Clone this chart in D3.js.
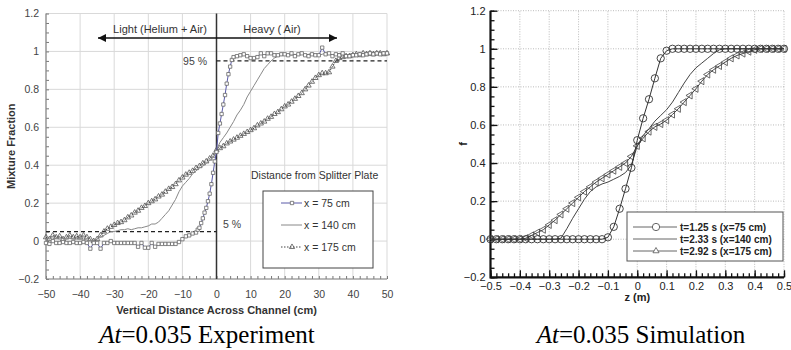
<!DOCTYPE html>
<html>
<head>
<meta charset="utf-8">
<script src="https://cdn.jsdelivr.net/npm/d3@7"></script>
<style>
  body { margin: 0; background: #fff; }
  svg { display: block; }
  text { font-family: "Liberation Sans", Arial, sans-serif; }
  text.caption { font-family: "Liberation Serif", "Times New Roman", serif; }
</style>
</head>
<body>
<svg id="chart" width="791" height="350"></svg>
<script>
// ---------- experiment (left) ----------
const expXTicks = [-50, -40, -30, -20, -10, 0, 10, 20, 30, 40, 50];
const fTicks = [-0.2, 0, 0.2, 0.4, 0.6, 0.8, 1, 1.2];

const expX = [-50,-49,-48,-47,-46,-45,-44,-43,-42,-41,-40,-39,-38,-37,-36,-35,-34,-33,-32,-31,
  -30,-29,-28,-27,-26,-25,-24,-23,-22,-21,-20,-19,-18,-17,-16,-15,-14,-13,-12,-11,
  -10,-9,-8,-7,-6,-5,-4,-3,-2,-1,0,1,2,3,4,5,6,7,8,9,10,11,12,13,14,15,16,17,18,19,
  20,21,22,23,24,25,26,27,28,29,30,31,32,33,34,35,36,37,38,39,40,41,42,43,44,45,46,47,48,49,50];

const exp75X = [-50,-49,-48,-47,-46,-45,-44,-43,-42,-41,-40,-39,-38,-37,-36,-35,-34,-33,-32,-31,
  -30,-29,-28,-27,-26,-25,-24,-23,-22,-21,-20,-19,-18,-17,-16,-15,-14,-13,-12,-11,
  -10,-9,-8,-7,-6,-5.5,-5,-4.5,-4,-3.5,-3,-2.5,-2,-1.5,-1,-0.5,0,0.5,1,1.5,2,2.5,3,3.5,4,4.5,5,
  6,7,8,9,10,11,12,13,14,15,16,17,18,19,20,21,22,23,24,25,26,27,28,29,30,
  31,32,33,34,35,36,37,38,39,40,41,42,43,44,45,46,47,48,49,50];
const exp75F = [-0.01,-0.015,0,-0.01,-0.01,-0.005,-0.01,-0.01,-0.005,-0.01,
  -0.01,-0.005,-0.01,-0.04,-0.01,-0.01,-0.04,-0.01,-0.01,0,
  -0.01,-0.01,-0.01,-0.01,-0.01,-0.01,-0.01,-0.03,-0.01,-0.035,
  -0.035,-0.01,-0.03,-0.015,-0.015,-0.015,-0.015,-0.015,-0.015,-0.005,
  0.01,0.025,0.03,0.04,0.045,
  0.06,0.07,0.095,0.12,0.15,0.175,0.21,0.25,0.30,0.36,0.42,0.47,
  0.57,0.62,0.67,0.72,0.77,0.83,0.88,0.92,0.955,0.97,
  0.975,0.98,0.985,0.975,0.965,0.965,0.97,0.99,0.975,0.99,
  0.99,0.98,0.98,0.985,0.985,0.98,0.99,0.975,0.985,0.99,
  0.98,0.975,0.985,0.98,0.98,1.02,0.985,0.99,0.975,0.985,
  0.98,0.99,0.975,0.975,0.98,0.98,0.985,0.98,0.985,0.99,
  0.985,0.99,0.985,0.99,0.99];

const exp140F = [0.01,0.015,0.01,0.015,0.01,0.015,0.01,0.015,0.01,0.01,
  0.01,0.01,0.005,0.0,0.005,0.01,0.02,0.03,0.04,0.05,
  0.05,0.055,0.06,0.06,0.065,0.06,0.065,0.07,0.07,0.075,
  0.08,0.09,0.09,0.10,0.12,0.14,0.16,0.19,0.22,0.26,
  0.29,0.31,0.33,0.355,0.37,0.385,0.395,0.41,0.425,0.44,
  0.48,
  0.52,0.545,0.57,0.6,0.63,0.665,0.69,0.72,0.76,0.79,
  0.82,0.85,0.88,0.91,0.93,0.95,0.965,0.975,0.98,0.98,
  0.985,0.98,0.985,0.98,0.985,0.98,0.985,0.99,0.985,0.98,
  0.985,0.99,0.985,0.98,0.985,0.99,0.985,0.98,0.985,0.99,
  0.985,0.99,0.985,0.99,0.985,0.99,0.99,0.985,0.99,0.99];

const exp175F = [0.02,0.01,0.03,0.02,0.025,0.01,0.02,0.03,0.02,0.025,
  0.02,0.03,0.02,0.01,0.0,0.01,0.03,0.05,0.065,0.075,
  0.085,0.095,0.10,0.11,0.125,0.135,0.15,0.16,0.175,0.185,
  0.20,0.21,0.22,0.235,0.245,0.26,0.275,0.285,0.30,0.32,
  0.335,0.35,0.36,0.37,0.385,0.395,0.41,0.42,0.435,0.45,
  0.48,
  0.49,0.5,0.515,0.525,0.535,0.545,0.555,0.565,0.575,0.585,
  0.595,0.61,0.62,0.63,0.645,0.655,0.67,0.68,0.695,0.71,
  0.72,0.735,0.75,0.765,0.78,0.80,0.82,0.84,0.86,0.875,
  0.885,0.885,0.89,0.92,0.95,0.965,0.97,0.975,0.975,0.98,
  0.985,0.98,0.99,0.985,0.99,0.985,0.99,0.99,0.985,0.99];

const expLegend = ['x = 75 cm', 'x = 140 cm', 'x = 175 cm'];

// ---------- simulation (right) ----------
const simZTicks = [-0.5, -0.4, -0.3, -0.2, -0.1, 0, 0.1, 0.2, 0.3, 0.4, 0.5];
const simZ = [-0.5,-0.48,-0.46,-0.44,-0.42,-0.4,-0.38,-0.36,-0.34,-0.32,-0.3,-0.28,-0.26,-0.24,-0.22,
  -0.2,-0.18,-0.16,-0.14,-0.12,-0.1,-0.08,-0.06,-0.04,-0.02,0,0.02,0.04,0.06,0.08,0.1,
  0.12,0.14,0.16,0.18,0.2,0.22,0.24,0.26,0.28,0.3,0.32,0.34,0.36,0.38,0.4,0.42,0.44,0.46,0.48,0.5];
const sim125F = [0,0,0,0,0,0,0,0,0,0,0,0,0,0,0,0,0,0,0,0,
  0.01,0.065,0.16,0.265,0.375,0.52,0.635,0.735,0.845,0.95,0.99,
  1,1,1,1,1,1,1,1,1,1,1,1,1,1,1,1,1,1,1,1];
const sim233F = [0,0,0,0,0,0,0,0,0,0,0,0,
  0.005,0.055,0.11,0.16,0.21,0.25,0.275,0.29,0.30,0.315,0.33,0.35,0.39,0.49,
  0.545,0.58,0.62,0.65,0.68,0.72,0.77,0.82,0.865,0.9,0.925,0.95,0.975,0.995,
  1,1,1,1,1,1,1,1,1,1,1];
const sim292F = [0,0,0,0,0,0,
  0.005,0.02,0.035,0.05,0.075,0.10,0.13,0.16,0.19,0.22,
  0.25,0.275,0.30,0.32,0.34,0.36,0.38,0.40,0.435,0.49,
  0.53,0.565,0.59,0.605,0.625,0.655,0.685,0.72,0.755,0.79,
  0.83,0.865,0.89,0.91,0.93,0.95,0.965,0.975,0.985,0.995,
  1.0,1,1,1,1];
const simLegend = ['t=1.25 s (x=75 cm)', 't=2.33 s (x=140 cm)', 't=2.92 s (x=175 cm)'];

const svg = d3.select('#chart');

// ================= LEFT PANEL =================
const xL = d3.scaleLinear().domain([-50, 50]).range([46, 387]);
const yL = d3.scaleLinear().domain([-0.2, 1.2]).range([279, 13.5]);
const L = svg.append('g');

// grid
L.append('g').selectAll('line').data(expXTicks).join('line')
  .attr('x1', d => xL(d)).attr('x2', d => xL(d))
  .attr('y1', yL(-0.2)).attr('y2', yL(1.2))
  .attr('stroke', '#d9d9d9').attr('stroke-width', 1);
L.append('g').selectAll('line').data(fTicks).join('line')
  .attr('x1', xL(-50)).attr('x2', xL(50))
  .attr('y1', d => yL(d)).attr('y2', d => yL(d))
  .attr('stroke', '#d9d9d9').attr('stroke-width', 1);

// minor ticks
const axYL = L.append('g').attr('transform', `translate(${xL(-50)},0)`)
  .call(d3.axisRight(yL).ticks(28).tickSize(3).tickFormat(''));
const axXL = L.append('g').attr('transform', `translate(0,${yL(-0.2)})`)
  .call(d3.axisTop(xL).ticks(50).tickSize(3).tickFormat(''));
[axYL, axXL].forEach(a => {
  a.select('.domain').remove();
  a.selectAll('line').attr('stroke', '#777');
});

// axis lines
L.append('line').attr('x1', xL(-50)).attr('x2', xL(-50)).attr('y1', yL(-0.2)).attr('y2', yL(1.2))
  .attr('stroke', '#888').attr('stroke-width', 1.2);
L.append('line').attr('x1', xL(-50)).attr('x2', xL(50)).attr('y1', yL(-0.2)).attr('y2', yL(-0.2))
  .attr('stroke', '#888').attr('stroke-width', 1.2);

// tick labels
const lblYL = L.append('g').attr('transform', `translate(${xL(-50)},0)`)
  .call(d3.axisLeft(yL).tickValues(fTicks).tickSize(0).tickPadding(7).tickFormat(d3.format('~g')));
const lblXL = L.append('g').attr('transform', `translate(0,${yL(-0.2)})`)
  .call(d3.axisBottom(xL).tickValues(expXTicks).tickSize(0).tickPadding(12));
[lblYL, lblXL].forEach(a => {
  a.select('.domain').remove();
  a.selectAll('text').attr('font-size', 10.5).attr('fill', '#444');
});

// center vertical line
L.append('line').attr('x1', xL(0)).attr('x2', xL(0)).attr('y1', yL(-0.2)).attr('y2', yL(1.2))
  .attr('stroke', '#333').attr('stroke-width', 1.5);

// dashed thresholds
L.append('line').attr('x1', xL(0)).attr('x2', xL(50)).attr('y1', yL(0.95)).attr('y2', yL(0.95))
  .attr('stroke', '#222').attr('stroke-width', 1.2).attr('stroke-dasharray', '4,3');
L.append('line').attr('x1', xL(-50)).attr('x2', xL(0)).attr('y1', yL(0.05)).attr('y2', yL(0.05))
  .attr('stroke', '#222').attr('stroke-width', 1.2).attr('stroke-dasharray', '4,3');
L.append('text').attr('x', 207).attr('y', yL(0.95) + 4).attr('text-anchor', 'end')
  .attr('font-size', 10.5).attr('fill', '#444').text('95 %');
L.append('text').attr('x', 223).attr('y', yL(0.05) - 4).attr('font-size', 10.5).attr('fill', '#444').text('5 %');

// arrows
const defs = svg.append('defs');
defs.append('marker').attr('id', 'arrowEnd').attr('viewBox', '0 0 10 10').attr('refX', 10).attr('refY', 5)
  .attr('markerWidth', 10).attr('markerHeight', 8).attr('markerUnits', 'userSpaceOnUse').attr('orient', 'auto')
  .append('path').attr('d', 'M0,0L10,5L0,10Z').attr('fill', '#111');
defs.append('marker').attr('id', 'arrowStart').attr('viewBox', '0 0 10 10').attr('refX', 0).attr('refY', 5)
  .attr('markerWidth', 10).attr('markerHeight', 8).attr('markerUnits', 'userSpaceOnUse').attr('orient', 'auto')
  .append('path').attr('d', 'M10,0L0,5L10,10Z').attr('fill', '#111');
L.append('line').attr('x1', 98).attr('x2', 337).attr('y1', 38).attr('y2', 38)
  .attr('stroke', '#111').attr('stroke-width', 1.3)
  .attr('marker-start', 'url(#arrowStart)').attr('marker-end', 'url(#arrowEnd)');
L.append('text').attr('x', 160).attr('y', 33).attr('text-anchor', 'middle').attr('font-size', 11)
  .attr('fill', '#333').text('Light (Helium + Air)');
L.append('text').attr('x', 272).attr('y', 33).attr('text-anchor', 'middle').attr('font-size', 11)
  .attr('fill', '#333').text('Heavy ( Air)');

// series
const lineL = (xs, fs) => d3.line().x((d, i) => xL(xs[i])).y(d => yL(d))(fs);
const sq = d3.symbol(d3.symbolSquare, 11);
const tri = d3.symbol(d3.symbolTriangle, 12);

L.append('path').attr('d', lineL(expX, exp175F)).attr('fill', 'none')
  .attr('stroke', '#444').attr('stroke-width', 1).attr('stroke-dasharray', '1.5,1.5');
L.append('g').selectAll('path').data(exp175F).join('path')
  .attr('d', tri).attr('transform', (d, i) => `translate(${xL(expX[i])},${yL(d)})`)
  .attr('fill', 'none').attr('stroke', '#555').attr('stroke-width', 0.8);

L.append('path').attr('d', lineL(expX, exp140F)).attr('fill', 'none')
  .attr('stroke', '#888').attr('stroke-width', 1);

L.append('path').attr('d', lineL(exp75X, exp75F)).attr('fill', 'none')
  .attr('stroke', '#5a5aa8').attr('stroke-width', 1);
L.append('g').selectAll('path').data(exp75F).join('path')
  .attr('d', sq).attr('transform', (d, i) => `translate(${xL(exp75X[i])},${yL(d)})`)
  .attr('fill', '#fff').attr('stroke', '#666').attr('stroke-width', 0.8);

// legend
L.append('text').attr('x', 251).attr('y', 179).attr('font-size', 10.5).attr('fill', '#333')
  .text('Distance from Splitter Plate');
L.append('rect').attr('x', 263).attr('y', 191).attr('width', 110).attr('height', 77)
  .attr('fill', '#fff').attr('stroke', '#444').attr('stroke-width', 1);
const legYL = [203, 225, 247];
const legStrokeL = ['#5a5aa8', '#888', '#444'];
legYL.forEach((y, i) => {
  L.append('line').attr('x1', 281).attr('x2', 302).attr('y1', y).attr('y2', y)
    .attr('stroke', legStrokeL[i]).attr('stroke-width', 1)
    .attr('stroke-dasharray', i === 2 ? '1.5,1.5' : null);
  if (i === 0) L.append('path').attr('d', sq).attr('transform', `translate(292,${y})`)
    .attr('fill', '#fff').attr('stroke', '#666').attr('stroke-width', 0.8);
  if (i === 2) L.append('path').attr('d', tri).attr('transform', `translate(292,${y})`)
    .attr('fill', 'none').attr('stroke', '#555').attr('stroke-width', 0.8);
  L.append('text').attr('x', 304).attr('y', y).attr('dy', '0.35em').attr('font-size', 10.5)
    .attr('fill', '#333').text(expLegend[i]);
});

// titles
L.append('text').attr('transform', `translate(15,${(yL(-0.2) + yL(1.2)) / 2}) rotate(-90)`)
  .attr('text-anchor', 'middle').attr('font-size', 11).attr('font-weight', 'bold').attr('fill', '#333')
  .text('Mixture Fraction');
L.append('text').attr('x', xL(0)).attr('y', 314).attr('text-anchor', 'middle').attr('font-size', 11)
  .attr('font-weight', 'bold').attr('fill', '#333').text('Vertical Distance Across Channel (cm)');

const capL = L.append('text').attr('class', 'caption').attr('x', 207).attr('y', 343).attr('text-anchor', 'middle')
  .attr('font-size', 25).attr('fill', '#000');
capL.append('tspan').attr('font-style', 'italic').text('At');
capL.append('tspan').text('=0.035 Experiment');

// ================= RIGHT PANEL =================
const xR = d3.scaleLinear().domain([-0.5, 0.5]).range([490.5, 784]);
const yR = d3.scaleLinear().domain([-0.2, 1.2]).range([277.3, 10.7]);
const R = svg.append('g');

R.append('g').selectAll('line').data(simZTicks).join('line')
  .attr('x1', d => xR(d)).attr('x2', d => xR(d)).attr('y1', yR(-0.2)).attr('y2', yR(1.2))
  .attr('stroke', '#aaa').attr('stroke-width', 0.8).attr('stroke-dasharray', '1,1.5');
R.append('g').selectAll('line').data(fTicks).join('line')
  .attr('x1', xR(-0.5)).attr('x2', xR(0.5)).attr('y1', d => yR(d)).attr('y2', d => yR(d))
  .attr('stroke', '#aaa').attr('stroke-width', 0.8).attr('stroke-dasharray', '1,1.5');

// minor + major ticks (inside)
const minYR = R.append('g').attr('transform', `translate(${xR(-0.5)},0)`)
  .call(d3.axisRight(yR).ticks(28).tickSize(4).tickFormat(''));
const majYR = R.append('g').attr('transform', `translate(${xR(-0.5)},0)`)
  .call(d3.axisRight(yR).tickValues(fTicks).tickSize(7).tickFormat(''));
const minXR = R.append('g').attr('transform', `translate(0,${yR(-0.2)})`)
  .call(d3.axisTop(xR).ticks(50).tickSize(4).tickFormat(''));
const majXR = R.append('g').attr('transform', `translate(0,${yR(-0.2)})`)
  .call(d3.axisTop(xR).tickValues(simZTicks).tickSize(7).tickFormat(''));
[minYR, majYR, minXR, majXR].forEach(a => {
  a.select('.domain').remove();
  a.selectAll('line').attr('stroke', '#111').attr('stroke-width', 1.3);
});
R.append('path').attr('d', `M${xR(-0.5)},${yR(1.2)}V${yR(-0.2)}H${xR(0.5)}`)
  .attr('fill', 'none').attr('stroke', '#111').attr('stroke-width', 2.2);

const lblYR = R.append('g').attr('transform', `translate(${xR(-0.5)},0)`)
  .call(d3.axisLeft(yR).tickValues(fTicks).tickSize(0).tickPadding(5).tickFormat(d3.format('~g')));
const lblXR = R.append('g').attr('transform', `translate(0,${yR(-0.2)})`)
  .call(d3.axisBottom(xR).tickValues(simZTicks).tickSize(0).tickPadding(5).tickFormat(d3.format('~g')));
[lblYR, lblXR].forEach(a => {
  a.select('.domain').remove();
  a.selectAll('text').attr('font-size', 11).attr('fill', '#222');
});

// series
const lineR = fs => d3.line().x((d, i) => xR(simZ[i])).y(d => yR(d))(fs);
const circ = d3.symbol(d3.symbolCircle, 42);
const triR = d3.symbol(d3.symbolTriangle, 22);

R.append('path').attr('d', lineR(sim233F)).attr('fill', 'none').attr('stroke', '#444').attr('stroke-width', 1);
R.append('path').attr('d', lineR(sim292F)).attr('fill', 'none').attr('stroke', '#444').attr('stroke-width', 1);
R.append('g').selectAll('path').data(sim292F).join('path')
  .attr('d', triR).attr('transform', (d, i) => `translate(${xR(simZ[i])},${yR(d)}) rotate(-90)`)
  .attr('fill', 'none').attr('stroke', '#444').attr('stroke-width', 0.8);
R.append('path').attr('d', lineR(sim125F)).attr('fill', 'none').attr('stroke', '#333').attr('stroke-width', 1);
R.append('g').selectAll('path').data(sim125F).join('path')
  .attr('d', circ).attr('transform', (d, i) => `translate(${xR(simZ[i])},${yR(d)})`)
  .attr('fill', 'none').attr('stroke', '#333').attr('stroke-width', 0.9);

// legend
R.append('rect').attr('x', 627).attr('y', 212).attr('width', 156).attr('height', 49)
  .attr('fill', '#fff').attr('stroke', '#555').attr('stroke-width', 1);
const legYR = [227, 239, 251];
legYR.forEach((y, i) => {
  R.append('line').attr('x1', 633).attr('x2', 677).attr('y1', y).attr('y2', y)
    .attr('stroke', '#666').attr('stroke-width', 1);
  if (i === 0) R.append('path').attr('d', circ).attr('transform', `translate(656,${y})`)
    .attr('fill', '#fff').attr('stroke', '#555').attr('stroke-width', 0.9);
  if (i === 2) R.append('path').attr('d', d3.symbol(d3.symbolTriangle, 16)).attr('transform', `translate(656,${y})`)
    .attr('fill', '#fff').attr('stroke', '#555').attr('stroke-width', 0.8);
  R.append('text').attr('x', 680).attr('y', y).attr('dy', '0.35em').attr('font-size', 10)
    .attr('font-weight', 'bold').attr('fill', '#222').text(simLegend[i]);
});

R.append('text').attr('transform', `translate(467,${(yR(-0.2) + yR(1.2)) / 2}) rotate(-90)`)
  .attr('text-anchor', 'middle').attr('font-size', 11).attr('font-weight', 'bold').attr('fill', '#222').text('f');
R.append('text').attr('x', xR(0)).attr('y', 301).attr('text-anchor', 'middle').attr('font-size', 11)
  .attr('font-weight', 'bold').attr('fill', '#222').text('z (m)');

const capR = R.append('text').attr('class', 'caption').attr('x', 641).attr('y', 343).attr('text-anchor', 'middle')
  .attr('font-size', 25).attr('fill', '#000');
capR.append('tspan').attr('font-style', 'italic').text('At');
capR.append('tspan').text('=0.035 Simulation');
</script>
</body>
</html>
